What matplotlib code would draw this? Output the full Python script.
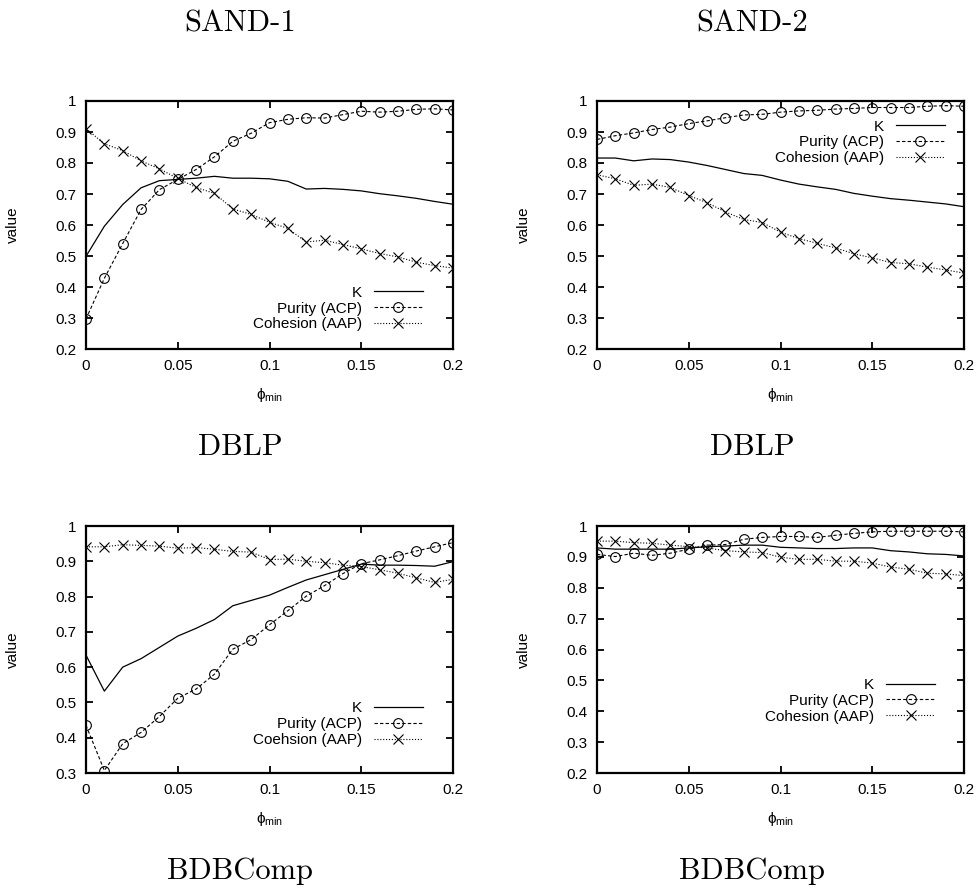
import numpy as np
import matplotlib
matplotlib.use("Agg")
import matplotlib.pyplot as plt

plt.rcParams['font.family'] = ['Liberation Sans', 'DejaVu Sans']
plt.rcParams['mathtext.fontset'] = 'custom'
plt.rcParams['mathtext.rm'] = 'Liberation Sans'

phi = [0.00, 0.01, 0.02, 0.03, 0.04, 0.05, 0.06, 0.07, 0.08, 0.09, 0.10,
       0.11, 0.12, 0.13, 0.14, 0.15, 0.16, 0.17, 0.18, 0.19, 0.20]

# SAND-1
sand1_k = [0.499, 0.596, 0.666, 0.720, 0.743, 0.747, 0.751, 0.757, 0.751, 0.751, 0.749,
           0.741, 0.716, 0.718, 0.715, 0.710, 0.701, 0.694, 0.686, 0.676, 0.667]
sand1_pur = [0.297, 0.428, 0.540, 0.650, 0.714, 0.747, 0.779, 0.820, 0.870, 0.896, 0.930,
             0.941, 0.946, 0.945, 0.956, 0.967, 0.964, 0.967, 0.973, 0.975, 0.971]
sand1_coh = [0.911, 0.862, 0.840, 0.807, 0.781, 0.750, 0.721, 0.702, 0.652, 0.634, 0.609,
             0.589, 0.545, 0.551, 0.537, 0.523, 0.508, 0.497, 0.480, 0.469, 0.461]

# SAND-2
sand2_k = [0.816, 0.816, 0.807, 0.813, 0.811, 0.803, 0.792, 0.779, 0.766, 0.760, 0.745,
           0.732, 0.723, 0.715, 0.702, 0.693, 0.685, 0.680, 0.674, 0.668, 0.659]
sand2_pur = [0.876, 0.888, 0.897, 0.908, 0.916, 0.927, 0.936, 0.946, 0.955, 0.957, 0.964,
             0.968, 0.970, 0.974, 0.976, 0.979, 0.979, 0.979, 0.983, 0.985, 0.983]
sand2_coh = [0.762, 0.749, 0.728, 0.732, 0.721, 0.695, 0.672, 0.642, 0.618, 0.608, 0.577,
             0.556, 0.541, 0.526, 0.507, 0.494, 0.479, 0.475, 0.464, 0.455, 0.445]

# DBLP (left)
dblp1_k = [0.634, 0.532, 0.600, 0.624, 0.656, 0.688, 0.710, 0.735, 0.774, 0.789, 0.804,
           0.826, 0.847, 0.862, 0.877, 0.892, 0.889, 0.889, 0.888, 0.886, 0.899]
dblp1_pur = [0.435, 0.307, 0.383, 0.415, 0.460, 0.512, 0.538, 0.580, 0.651, 0.678, 0.720,
             0.760, 0.801, 0.831, 0.865, 0.893, 0.904, 0.916, 0.929, 0.941, 0.953]
dblp1_coh = [0.941, 0.941, 0.947, 0.945, 0.943, 0.937, 0.939, 0.934, 0.928, 0.926, 0.905,
             0.906, 0.900, 0.896, 0.889, 0.885, 0.876, 0.866, 0.853, 0.840, 0.849]

# DBLP (right)
dblp2_k = [0.929, 0.925, 0.925, 0.925, 0.925, 0.929, 0.933, 0.935, 0.938, 0.938, 0.931,
           0.929, 0.927, 0.927, 0.929, 0.929, 0.920, 0.916, 0.910, 0.908, 0.903]
dblp2_pur = [0.908, 0.901, 0.912, 0.905, 0.912, 0.925, 0.938, 0.940, 0.957, 0.963, 0.966,
             0.966, 0.963, 0.970, 0.976, 0.981, 0.983, 0.983, 0.983, 0.983, 0.981]
dblp2_coh = [0.951, 0.951, 0.946, 0.944, 0.938, 0.933, 0.929, 0.920, 0.916, 0.914, 0.899,
             0.892, 0.892, 0.886, 0.886, 0.880, 0.867, 0.860, 0.847, 0.845, 0.839]

coh_labels = ["Cohesion (AAP)", "Cohesion (AAP)", "Coehsion (AAP)", "Cohesion (AAP)"]
y_lows = [0.2, 0.2, 0.3, 0.2]

panels = [
    (sand1_k, sand1_pur, sand1_coh),
    (sand2_k, sand2_pur, sand2_coh),
    (dblp1_k, dblp1_pur, dblp1_coh),
    (dblp2_k, dblp2_pur, dblp2_coh),
]

W, H = 978, 888
fig = plt.figure(figsize=(W / 100, H / 100), dpi=100)

# axes rectangles in pixels: left, top, right, bottom
rects = [(86, 101, 453, 349), (597, 101, 964, 349),
         (86, 526, 453, 773), (597, 526, 964, 773)]
# legend anchor (upper right corner, axes fraction)
leg_anchor = [(0.918, 0.255), (0.948, 0.925), (0.918, 0.29), (0.921, 0.385)]

for i, (k, pur, coh) in enumerate(panels):
    l, t, r, b = rects[i]
    ax = fig.add_axes([l / W, 1 - b / H, (r - l) / W, (b - t) / H])
    ax.plot(phi, k, color='black', lw=0.9, label='K')
    ax.plot(phi, pur, color='black', lw=0.8, ls=(0, (3, 2)), marker='o',
            ms=7, mfc='none', mec='black', mew=0.8, label='Purity (ACP)')
    ax.plot(phi, coh, color='black', lw=0.8, ls=(0, (1, 1.6)), marker='x',
            ms=7, mec='black', mew=0.8, label=coh_labels[i])
    ax.set_xlim(0, 0.2)
    ax.set_ylim(y_lows[i], 1)
    ax.set_xticks([0, 0.05, 0.1, 0.15, 0.2])
    ax.set_xticklabels(['0', '0.05', '0.1', '0.15', '0.2'])
    yt = np.round(np.arange(y_lows[i], 1.001, 0.1), 1)
    ax.set_yticks(yt)
    ax.set_yticklabels(['1' if v == 1 else f'{v:.1f}' for v in yt])
    ax.tick_params(direction='in', top=True, right=True, length=5, width=1.3,
                   labelsize=11, pad=7)
    for s in ax.spines.values():
        s.set_linewidth(1.6)
    ax.set_ylabel('value', fontsize=11)
    ax.set_xlabel('ϕ$_{\\mathrm{min}}$', fontsize=11)
    ax.yaxis.set_label_coords(-0.18, 0.5)
    ax.xaxis.set_label_coords(0.5, -0.15)
    ax.legend(loc='upper right', bbox_to_anchor=leg_anchor[i], frameon=False,
              markerfirst=False, fontsize=11, borderpad=0, borderaxespad=0,
              handlelength=3.2, handletextpad=0.8, labelspacing=0.12)

title_font = dict(family='cmr10', fontsize=22, ha='center', va='baseline')
fig.text(240 / W, 1 - 31 / H, 'SAND-1', **title_font)
fig.text(752 / W, 1 - 31 / H, 'SAND-2', **title_font)
fig.text(240 / W, 1 - 455 / H, 'DBLP', **title_font)
fig.text(752 / W, 1 - 455 / H, 'DBLP', **title_font)
fig.text(240 / W, 1 - 879 / H, 'BDBComp', **title_font)
fig.text(752 / W, 1 - 879 / H, 'BDBComp', **title_font)

fig.savefig('out.png', dpi=100)
